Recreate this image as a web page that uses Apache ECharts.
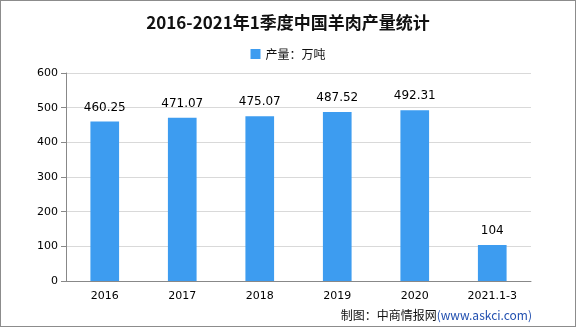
<!DOCTYPE html>
<html>
<head>
<meta charset="utf-8">
<script src="https://cdn.jsdelivr.net/npm/echarts@6/dist/echarts.min.js"></script>
<style>
  html, body { margin: 0; padding: 0; background: #fff; }
  #chart-container { width: 574px; height: 325px; border: 1px solid #8c8c8c; }
</style>
</head>
<body>
<div id="chart-container"></div>
<script>
var years = ['2016', '2017', '2018', '2019', '2020', '2021.1-3'];
var output = [460.25, 471.07, 475.07, 487.52, 492.31, 104];
var yTicks = [0, 100, 200, 300, 400, 500, 600];

var dom = document.getElementById('chart-container');
var myChart = echarts.init(dom, null, { renderer: 'canvas' });

var option = {
  animation: false,
  title: {
    left: 'center',
    top: 8,
    text: '2016-2021年1季度中国羊肉产量统计',
    textStyle: {
      fontFamily: 'Noto Sans CJK SC',
      fontSize: 17,
      fontWeight: 'bold',
      color: '#111'
    }
  },
  legend: {
    top: 42,
    left: 'center',
    itemWidth: 10,
    itemHeight: 10,
    itemGap: 4,
    icon: 'rect',
    textStyle: { fontFamily: 'Noto Sans CJK SC', fontSize: 12, color: '#111' },
    data: ['产量：万吨']
  },
  grid: { left: 65, right: 44, top: 72, bottom: 45 },
  xAxis: {
    type: 'category',
    data: years,
    axisLine: { lineStyle: { color: '#888' } },
    axisTick: { lineStyle: { color: '#888' } },
    axisLabel: { color: '#000', fontSize: 11, margin: 10, fontFamily: 'DejaVu Sans' }
  },
  yAxis: {
    type: 'value',
    min: yTicks[0],
    max: yTicks[yTicks.length - 1],
    interval: 100,
    axisLine: { show: true, lineStyle: { color: '#888' } },
    axisTick: { show: true, lineStyle: { color: '#888' } },
    axisLabel: { color: '#000', fontSize: 11, fontFamily: 'DejaVu Sans' },
    splitLine: { lineStyle: { color: '#d9d9d9' } }
  },
  series: [
    {
      name: '产量：万吨',
      type: 'bar',
      barWidth: '37%',
      itemStyle: { color: '#3d9cf0' },
      label: {
        show: true,
        position: 'top',
        distance: 8,
        color: '#000',
        fontSize: 12,
        fontFamily: 'DejaVu Sans'
      },
      data: output
    }
  ],
  graphic: [
    {
      type: 'text',
      right: 43,
      bottom: 5,
      style: {
        rich: {
          a: { fontFamily: 'Noto Sans CJK SC', fontSize: 12, fill: '#111' },
          b: { fontFamily: 'Noto Sans CJK SC', fontSize: 12, fill: '#2250b0' }
        },
        text: '{a|制图：中商情报网}{b|(www.askci.com)}'
      }
    }
  ]
};

myChart.setOption(option);
window.addEventListener('resize', myChart.resize);
</script>
</body>
</html>
